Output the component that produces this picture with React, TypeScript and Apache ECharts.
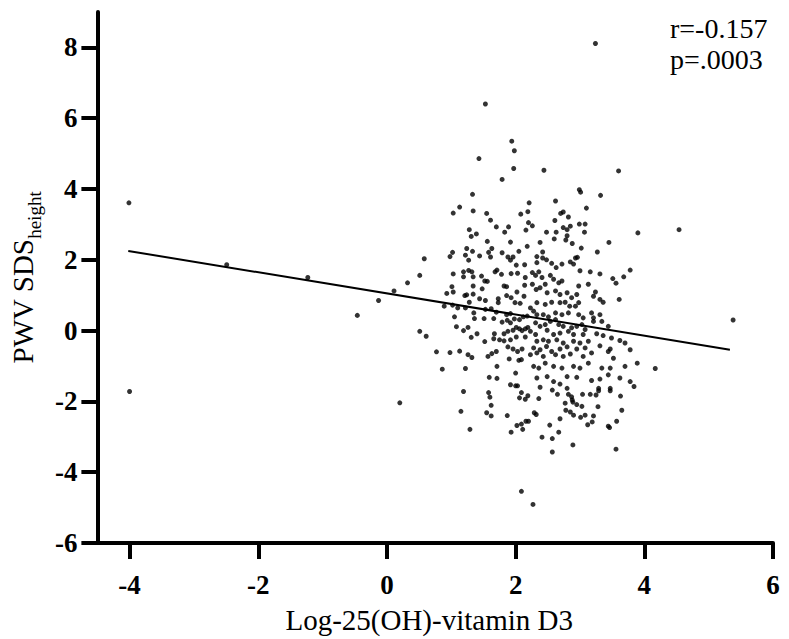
import React, { useEffect, useRef } from "react";
import * as echarts from "echarts";

const xTicks = [-4, -2, 0, 2, 4, 6];
const yTicks = [-6, -4, -2, 0, 2, 4, 6, 8];
const xTitle = "Log-25(OH)-vitamin D3";
const yTitleMain = "PWV SDS";
const yTitleSub = "height";
const statR = "r=-0.157";
const statP = "p=.0003";

// regression line endpoints
const fitX = [-4.02, 5.33];
const fitY = [2.25, -0.54];

const outliers: number[][] = [
  [-4.01, 3.61], [-4.0, -1.72], [-2.49, 1.86], [-1.23, 1.5], [-0.46, 0.43], [-0.13, 0.85],
  [0.11, 1.12], [0.2, -2.04], [0.32, 1.35], [0.51, 1.56], [0.58, 2.03], [0.51, -0.02],
  [0.61, -0.16], [0.77, -0.6], [0.86, -1.09], [5.38, 0.3], [4.54, 2.85], [4.17, -1.07],
  [3.24, 8.11], [1.53, 6.4],
];

const upperLeft: number[][] = [
  [1.94, 5.35], [1.98, 5.08], [1.43, 4.86], [1.97, 4.58], [1.79, 4.27], [1.33, 3.85], [1.13, 3.49],
  [1.03, 3.32], [1.34, 3.38], [1.55, 3.31], [1.61, 3.12], [1.7, 2.93], [1.89, 2.93], [1.28, 2.85],
  [1.31, 2.66], [1.39, 2.73], [1.83, 2.78], [2.08, 3.29], [2.19, 3.36], [2.21, 3.61], [2.2, 3.05],
  [2.16, 2.84], [1.56, 2.52], [1.92, 2.5], [2.18, 2.38], [1.24, 2.32], [1.63, 2.32], [1.02, 2.21],
  [1.33, 2.24], [1.58, 2.21], [1.79, 2.2], [2.05, 2.24], [0.98, 2.09], [1.22, 2.13], [1.44, 2.11],
  [1.61, 2.08], [1.88, 2.08], [1.96, 2.08],
];

const upperRight: number[][] = [
  [2.44, 4.53], [3.6, 4.51], [2.99, 3.98], [3.01, 3.91], [3.32, 3.82], [2.62, 3.66], [3.1, 3.46],
  [2.7, 3.31], [2.74, 3.35], [2.82, 3.21], [2.61, 3.11], [2.26, 2.96], [2.99, 3.01], [3.08, 3.01],
  [2.74, 2.91], [2.8, 2.85], [2.85, 2.95], [2.48, 2.78], [2.63, 2.78], [3.07, 2.78], [3.9, 2.76],
  [2.8, 2.68], [2.6, 2.59], [2.78, 2.56], [2.38, 2.49], [2.88, 2.46], [3.45, 2.49], [3.02, 2.33],
  [2.42, 2.22], [3.27, 2.22], [2.33, 2.09], [2.42, 2.05], [2.93, 2.05], [2.96, 2.07],
];

const middleLeft: number[][] = [
  [1.27, 1.99], [1.92, 1.99], [2.01, 1.85], [2.14, 1.86], [1.03, 1.6], [1.19, 1.66], [1.19, 1.52],
  [1.27, 1.7], [1.32, 1.66], [1.34, 1.52], [1.47, 1.54], [1.52, 1.4], [1.56, 1.39], [1.68, 1.66],
  [1.71, 1.71], [1.78, 1.59], [1.93, 1.61], [2.03, 1.62], [2.14, 1.28], [2.15, 1.5], [1.82, 1.26],
  [1.86, 1.24], [1.01, 1.24], [1.03, 1.09], [0.93, 1.05], [1.34, 1.26], [1.48, 1.18], [1.21, 0.99],
  [1.24, 1.01], [1.34, 1.03], [1.28, 0.8], [1.44, 0.9], [1.53, 0.85], [1.73, 0.9], [1.73, 0.79],
  [1.86, 0.99], [1.93, 0.93], [1.99, 0.79], [2.07, 0.77], [2.13, 0.97], [2.02, 1.09], [0.89, 0.69],
  [1.02, 0.72], [1.1, 0.64], [1.22, 0.64], [1.35, 0.5], [1.53, 0.6], [1.62, 0.62], [1.7, 0.52],
  [1.86, 0.45], [1.92, 0.48], [1.05, 0.39], [1.36, 0.34], [1.51, 0.34], [1.66, 0.34], [1.79, 0.24],
  [1.87, 0.29], [1.92, 0.22], [1.98, 0.33], [2.06, 0.31], [2.12, 0.39], [2.18, 0.41], [1.08, 0.11],
  [1.19, 0.0], [1.26, 0.09], [1.31, -0.19], [1.4, -0.09], [1.67, -0.09], [1.82, -0.09], [1.88, -0.02],
  [1.96, 0.01], [2.01, 0.09], [2.06, 0.05], [2.1, 0.0], [2.15, 0.05], [2.19, 0.09], [1.66, -0.23],
  [1.75, -0.26], [1.82, -0.29], [1.52, -0.31], [1.92, -0.26], [2.01, -0.18], [2.15, -0.18],
  [0.98, -0.62], [1.13, -0.58], [1.26, -0.68], [1.32, -0.76], [1.57, -0.73], [1.63, -0.65],
  [1.7, -0.59], [1.88, -0.46], [1.96, -0.52], [2.03, -0.59], [2.1, -0.52], [1.9, -0.8], [2.05, -0.84],
  [2.09, -0.82], [1.22, -1.07], [1.71, -1.01], [2.0, -1.2], [1.59, -1.32], [1.71, -1.35], [1.92, -1.53],
  [2.0, -1.56], [2.03, -1.56],
];

const middleRight: number[][] = [
  [2.33, 1.92], [2.48, 2.0], [2.56, 1.9], [2.63, 1.78], [2.72, 1.88], [2.85, 1.94], [2.9, 1.88],
  [3.0, 1.69], [3.16, 1.66], [3.31, 1.6], [3.51, 1.47], [3.56, 1.34], [3.68, 1.52], [3.78, 1.71],
  [2.26, 1.64], [2.31, 1.56], [2.36, 1.66], [2.41, 1.5], [2.54, 1.56], [2.59, 1.45], [2.67, 1.35],
  [2.72, 1.4], [2.26, 1.31], [2.32, 1.16], [2.38, 1.21], [2.49, 1.07], [2.46, 1.31], [2.62, 1.12],
  [2.69, 1.02], [2.8, 1.07], [2.87, 0.93], [2.95, 1.02], [2.98, 1.26], [3.13, 1.31], [3.24, 1.09],
  [3.21, 0.97], [3.36, 0.8], [3.61, 0.88], [3.31, 0.88], [2.33, 0.79], [2.46, 0.74], [2.56, 0.8],
  [2.69, 0.79], [2.77, 0.8], [2.84, 0.69], [2.93, 0.69], [2.98, 0.79], [2.23, 0.64], [2.28, 0.55],
  [2.33, 0.45], [2.43, 0.45], [2.51, 0.39], [2.62, 0.5], [2.72, 0.45], [2.82, 0.5], [2.98, 0.45],
  [3.05, 0.36], [3.18, 0.5], [3.21, 0.36], [3.31, 0.45], [3.21, 0.26], [3.34, 0.26], [3.44, 0.12],
  [2.31, 0.22], [2.38, 0.12], [2.46, 0.17], [2.54, 0.26], [2.62, 0.31], [2.67, 0.17], [2.74, 0.12],
  [2.87, 0.08], [2.95, 0.12], [3.03, 0.17], [3.08, 0.03], [2.23, -0.02], [2.31, -0.11], [2.49, 0.01],
  [2.59, -0.11], [2.69, -0.07], [2.82, -0.02], [2.9, -0.11], [3.05, -0.11], [3.26, -0.09],
  [3.36, -0.14], [3.49, -0.21], [3.62, -0.28], [3.7, -0.35], [2.33, -0.3], [2.43, -0.26],
  [2.51, -0.3], [2.64, -0.26], [2.74, -0.35], [2.9, -0.3], [3.0, -0.35], [3.13, -0.3], [2.28, -0.49],
  [2.38, -0.54], [2.48, -0.45], [2.56, -0.59], [2.69, -0.52], [2.8, -0.46], [2.95, -0.52],
  [3.08, -0.49], [3.31, -0.43], [3.47, -0.52], [3.78, -0.54], [3.89, -0.92], [3.7, -1.01],
  [2.23, -0.68], [2.33, -0.63], [2.43, -0.73], [2.62, -0.68], [2.74, -0.73], [2.85, -0.66],
  [3.05, -0.73], [3.18, -0.63], [3.44, -0.59], [3.52, -0.78], [2.28, -1.01], [2.36, -1.06],
  [2.46, -0.92], [2.59, -1.01], [2.72, -1.06], [2.9, -1.01], [3.0, -1.06], [3.13, -0.92],
  [3.34, -1.06], [3.47, -1.06], [3.62, -1.34], [3.78, -1.44], [2.33, -1.34], [2.49, -1.3],
  [2.59, -1.44], [2.69, -1.51], [2.8, -1.3], [2.95, -1.32], [3.18, -1.41], [3.31, -1.37],
  [3.44, -1.25], [2.38, -1.6], [2.8, -1.63], [3.29, -1.63], [3.47, -1.63], [3.84, -1.58],
];

const lowerLeft: number[][] = [
  [1.19, -1.72], [1.58, -1.75], [1.6, -1.88], [2.09, -1.75], [2.06, -1.9], [2.15, -1.94],
  [2.19, -1.84], [1.62, -2.11], [1.15, -2.28], [1.55, -2.32], [1.62, -2.41], [1.87, -2.4],
  [2.02, -2.68], [2.09, -2.64], [2.16, -2.56], [2.2, -2.56], [1.93, -2.87], [2.11, -2.79],
  [1.29, -2.79], [2.09, -4.54],
];

const lowerRight: number[][] = [
  [2.36, -1.92], [2.57, -1.68], [2.65, -1.8], [2.82, -1.8], [2.87, -1.87], [2.88, -1.96],
  [2.89, -2.02], [3.04, -1.8], [3.16, -1.8], [3.25, -1.82], [3.29, -1.7], [3.47, -1.7],
  [3.63, -1.85], [2.77, -2.05], [2.95, -2.09], [3.03, -2.14], [3.28, -2.15], [2.78, -2.25],
  [2.85, -2.3], [2.9, -2.39], [2.29, -2.32], [2.32, -2.37], [2.69, -2.49], [3.01, -2.45],
  [3.08, -2.39], [3.21, -2.41], [3.19, -2.58], [3.12, -2.66], [3.65, -2.25], [3.57, -2.56],
  [3.44, -2.7], [3.46, -2.74], [2.53, -2.67], [2.67, -2.87], [2.41, -3.01], [2.57, -3.05],
  [2.57, -3.43], [2.89, -3.23], [3.56, -3.35], [2.27, -4.91],
];

const SERIF = "Liberation Serif";

export default function App() {
  const ref = useRef<HTMLDivElement>(null);

  useEffect(() => {
    document.body.style.margin = "0";
    if (!ref.current) return;
    const chart = echarts.init(ref.current, null, { renderer: "svg" });
    const points = [
      ...outliers, ...upperLeft, ...upperRight, ...middleLeft,
      ...middleRight, ...lowerLeft, ...lowerRight,
    ];
    chart.setOption({
      animation: false,
      backgroundColor: "#fff",
      grid: { left: 97, right: 16, top: 12, bottom: 96 },
      xAxis: {
        type: "value",
        min: -4.5,
        max: 6,
        splitLine: { show: false },
        axisLine: { show: true, onZero: false, lineStyle: { color: "#000", width: 4 } },
        axisTick: { show: true, length: 16, lineStyle: { color: "#000", width: 4 }, customValues: xTicks },
        axisLabel: {
          customValues: xTicks,
          margin: 28,
          color: "#000",
          fontFamily: SERIF,
          fontWeight: "bold",
          fontSize: 27,
        },
        name: xTitle,
        nameLocation: "middle",
        nameGap: 62,
        nameTextStyle: { color: "#000", fontFamily: SERIF, fontSize: 29, padding: [0, 12, 0, 0] },
      },
      yAxis: {
        type: "value",
        min: -6,
        max: 9,
        splitLine: { show: false },
        axisLine: { show: true, onZero: false, lineStyle: { color: "#000", width: 4 } },
        axisTick: { show: true, length: 16, lineStyle: { color: "#000", width: 4 }, customValues: yTicks },
        axisLabel: {
          customValues: yTicks,
          margin: 20,
          color: "#000",
          fontFamily: SERIF,
          fontWeight: "bold",
          fontSize: 27,
        },
        name: `{a|${yTitleMain}}{b|${yTitleSub}}`,
        nameLocation: "middle",
        nameRotate: 90,
        nameGap: 52,
        nameTextStyle: {
          color: "#000",
          fontFamily: SERIF,
          rich: {
            a: { fontFamily: SERIF, fontSize: 29, color: "#000", verticalAlign: "bottom", padding: [0, 0, 7, 0] },
            b: { fontFamily: SERIF, fontSize: 19, color: "#000", verticalAlign: "bottom" },
          },
        },
      },
      graphic: [
        { type: "text", left: 670, top: 14, style: { text: statR, fill: "#000", font: `28px ${SERIF}` } },
        { type: "text", left: 670, top: 45, style: { text: statP, fill: "#000", font: `28px ${SERIF}` } },
      ],
      series: [
        {
          type: "scatter",
          data: points,
          symbol: "circle",
          symbolSize: 5,
          itemStyle: { color: "#000" },
          z: 3,
        },
        {
          type: "line",
          data: fitX.map((x, i) => [x, fitY[i]]),
          showSymbol: false,
          lineStyle: { color: "#000", width: 2 },
          z: 4,
        },
      ],
    });
    return () => chart.dispose();
  }, []);

  return <div ref={ref} style={{ width: 789, height: 639 }} />;
}
